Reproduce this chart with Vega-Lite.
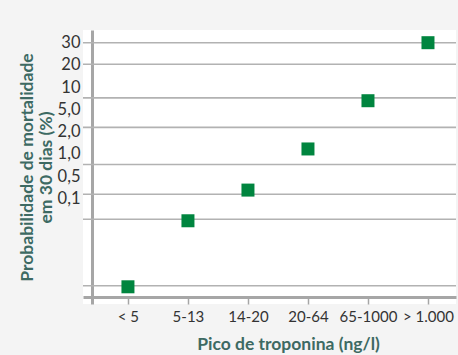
{
  "$schema": "https://vega.github.io/schema/vega-lite/v6.json",
  "width": 373,
  "height": 274,
  "autosize": {"type": "none"},
  "padding": {"left": 83, "top": 30, "right": 2, "bottom": 51},
  "background": "#f4f4f4",
  "view": {"fill": "white", "stroke": null},
  "config": {"font": "Lato"},
  "datasets": {
    "pontos": [
      {"troponina": "< 5", "posicao": 10.98},
      {"troponina": "5-13", "posicao": 8.01},
      {"troponina": "14-20", "posicao": 6.63},
      {"troponina": "20-64", "posicao": 4.78},
      {"troponina": "65-1000", "posicao": 2.61},
      {"troponina": "> 1.000", "posicao": 0}
    ],
    "grade": [
      {"posicao": 0}, {"posicao": 0.97}, {"posicao": 2.48}, {"posicao": 3.81},
      {"posicao": 5.48}, {"posicao": 6.82}, {"posicao": 7.94}, {"posicao": 10.93}
    ]
  },
  "encoding": {
    "y": {
      "field": "posicao",
      "type": "quantitative",
      "scale": {"domain": [-0.571, 11.754], "reverse": true, "nice": false, "zero": false},
      "axis": {
        "values": [0, 1, 2, 3, 4, 5, 6, 7],
        "labelExpr": "['30','20','10','5,0','2,0','1,0','0,5','0,1'][datum.value]",
        "labelOverlap": false,
        "offset": -9,
        "ticks": false,
        "grid": false,
        "labelPadding": 12,
        "labelFontSize": 16.5,
        "labelColor": "#333333",
        "domainColor": "#a6a6a6",
        "domainWidth": 3,
        "title": ["Probabilidade de mortalidade", "em 30 dias (%)"],
        "titleColor": "#3d6a63",
        "titleFontSize": 17.5,
        "titleFontWeight": "bold",
        "titleLineHeight": 19,
        "titlePadding": 2
      }
    }
  },
  "layer": [
    {
      "data": {"name": "grade"},
      "mark": {"type": "rule", "color": "#b2b2b2", "strokeWidth": 1.6}
    },
    {
      "data": {"name": "pontos"},
      "mark": {"type": "point", "shape": "square", "filled": true, "size": 169, "color": "#00853f", "opacity": 1},
      "encoding": {
        "x": {
          "field": "troponina",
          "type": "nominal",
          "sort": null,
          "scale": {"type": "point", "padding": 0.608, "align": 0.616},
          "axis": {
            "labelAngle": 0,
            "labelOverlap": false,
            "offset": -7,
            "tickSize": 7,
            "tickColor": "#a6a6a6",
            "tickWidth": 1.5,
            "domainColor": "#a6a6a6",
            "domainWidth": 3,
            "labelPadding": 5,
            "labelFontSize": 15,
            "labelColor": "#333333",
            "grid": false,
            "title": "Pico de troponina (ng/l)",
            "titleColor": "#3d6a63",
            "titleFontSize": 17.5,
            "titleFontWeight": "bold",
            "titlePadding": 11,
            "titleX": 205
          }
        }
      }
    }
  ]
}
